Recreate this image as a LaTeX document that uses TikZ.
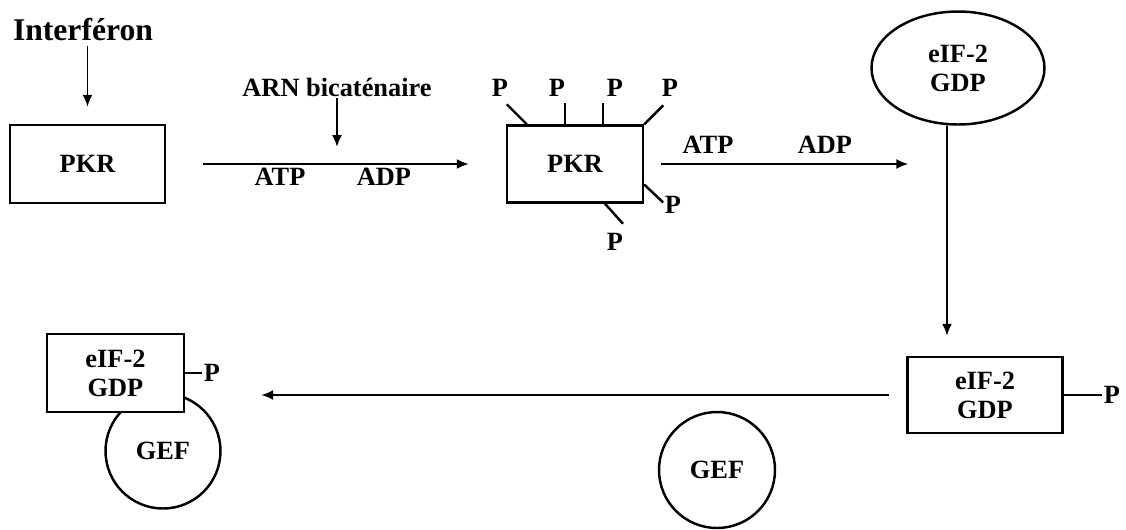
\documentclass[tikz,border=0pt]{standalone}
\usepackage{fontspec}
\setmainfont{Liberation Serif}
\usetikzlibrary{arrows.meta,positioning,calc,shapes.geometric}

\begin{document}
\begin{tikzpicture}[
    x=0.02cm, y=-0.02cm,
    lbl/.style={font=\fontsize{15}{16.5}\selectfont\bfseries, inner sep=1pt},
    box/.style={draw, line width=1.4pt, fill=white, align=center, font=\fontsize{15}{16.5}\selectfont\bfseries},
    arr/.style={-{Latex[length=0.24cm, width=0.2cm]}, line width=1.1pt},
    tick/.style={line width=1.4pt}
]

\useasboundingbox (0,0) rectangle (1126,529);

\node [lbl, font=\fontsize{18}{20}\selectfont\bfseries] (intf) at (83,30) {Interféron};
\node [box, minimum width=3.1cm, minimum height=1.56cm] (pkra) at (87.5,164) {PKR};
\node [lbl] (arn) at (337,87) {ARN bicaténaire};
\node [lbl] (atpa) at (280,177) {ATP};
\node [lbl] (adpa) at (384,177) {ADP};
\node [box, minimum width=2.72cm, minimum height=1.54cm] (pkrb) at (575,164) {PKR};
\node [lbl] (atpb) at (708,145) {ATP};
\node [lbl] (adpb) at (825,145) {ADP};
\node [box, ellipse, inner sep=0pt, minimum width=3.46cm, minimum height=2.26cm] (eifa) at (958,68) {eIF-2\\GDP};

\node [lbl] (pa) at (500,88) {P};
\node [lbl] (pb) at (557,88) {P};
\node [lbl] (pc) at (615,88) {P};
\node [lbl] (pd) at (670,88) {P};
\node [lbl] (pe) at (673,205) {P};
\node [lbl] (pf) at (615,242) {P};

\draw [tick] ([xshift=0.42cm]pkrb.north west) -- ++(-20,-20);
\draw [tick] ([xshift=1.18cm]pkrb.north west) -- ++(0,-21);
\draw [tick] ([xshift=1.94cm]pkrb.north west) -- ++(0,-21);
\draw [tick] (pkrb.north east) -- ++(19,-19);
\draw [tick] ([yshift=-0.41cm]pkrb.east) -- ++(19,18);
\draw [tick] ([xshift=0.6cm]pkrb.south) -- ++(18,20);

\node [box, minimum width=3.1cm, minimum height=1.52cm] (eifb) at (985,395) {eIF-2\\GDP};
\node [lbl] (pg) at (1112,395) {P};
\node [box, circle, minimum size=2.32cm] (gefb) at (717,470) {GEF};
\node [box, circle, minimum size=2.3cm] (gefa) at (163,451) {GEF};
\node [box, minimum width=2.74cm, minimum height=1.56cm] (eifc) at (115.5,373) {eIF-2\\GDP};
\node [lbl] (ph) at (212,373) {P};

\draw [tick] (eifb.east) -- (pg.west);
\draw [tick] (eifc.east) -- (ph.west);

\draw [arr, shorten <=0.05cm, shorten >=0.34cm] (pkra.north |- intf.south) -- (pkra.north);
\draw [arr, shorten <=0.74cm, shorten >=0.74cm] (pkra.east) -- (pkrb.west);
\draw [arr, shorten >=0.34cm] (arn.south) -- (arn.south |- pkra.east);
\draw [arr, shorten <=0.34cm] (pkrb.east) -- ($(eifa.west |- pkrb.east)+(38,0)$);
\draw [arr] ([xshift=-0.22cm]eifa.south) -- ([xshift=-0.76cm, yshift=0.4cm]eifb.north);
\draw [arr] ([xshift=-0.34cm]eifb.west) -- ($(eifb.west -| eifc.east)+(76,0)$);

\end{tikzpicture}
\end{document}
